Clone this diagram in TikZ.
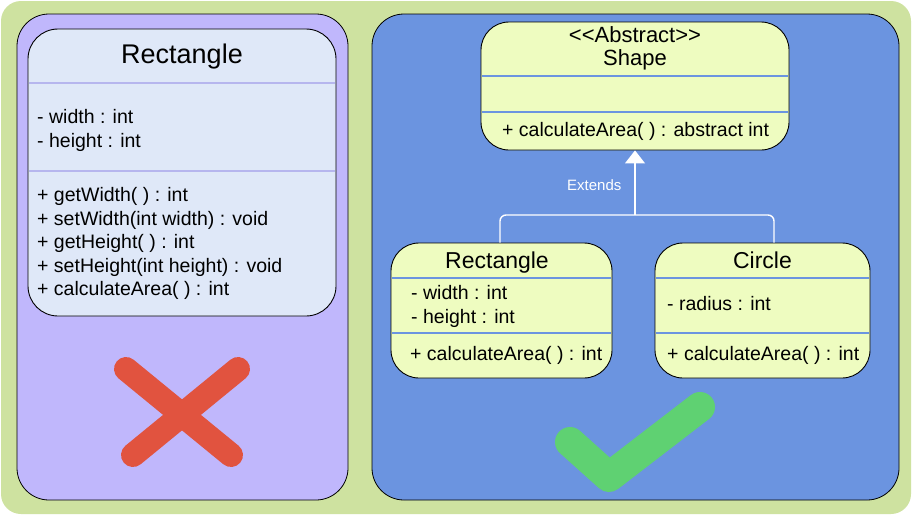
\documentclass[tikz,border=0pt]{standalone}
\usepackage{fontspec}
\setmainfont{Liberation Sans}
\usetikzlibrary{arrows.meta}
\definecolor{frameG}{HTML}{CEE2A0}
\definecolor{panelP}{HTML}{C0B7FC}
\definecolor{panelB}{HTML}{6B94E0}
\definecolor{boxL}{HTML}{DFE8F8}
\definecolor{boxY}{HTML}{EEFCC0}
\definecolor{divL}{HTML}{B6B6EE}
\definecolor{divB}{HTML}{6B94E0}
\definecolor{crossR}{HTML}{E1533F}
\definecolor{checkG}{HTML}{5FD172}
\tikzset{
  panel/.style={draw=black, line width=0.8pt, rounded corners=32pt},
  classbox/.style={draw=black, line width=0.9pt, inner sep=0pt},
  divider/.style={line width=1.6pt},
  txt/.style={inner sep=0pt, anchor=base west, font=\fontsize{19.5}{23}\selectfont},
  ttl/.style={inner sep=0pt, anchor=base, font=\fontsize{23}{26}\selectfont},
  conn/.style={draw=white, line width=1.4pt},
}
\begin{document}
\begin{tikzpicture}[x=1pt,y=-1pt]
\fill[white] (0,0) rectangle (912,515);
\useasboundingbox (0,0) rectangle (912,515);
\fill[frameG, rounded corners=20pt] (1,1) rectangle (911,514);
% panels
\filldraw[panel, fill=panelP] (17,14) rectangle (348,500);
\filldraw[panel, fill=panelB] (372,14) rectangle (899,500);

% left class
\node[classbox, fill=boxL, rounded corners=30pt, minimum width=308pt, minimum height=287pt] (lbox) at (182,172.5) {};
\draw[divider, divL] (28.6,83) -- (335.4,83);
\draw[divider, divL] (28.6,171) -- (335.4,171);
\node[inner sep=0pt, anchor=base, font=\fontsize{27}{30}\selectfont] (ltitle) at (182,63) {Rectangle};
\node[txt] (la1) at (37,123) {- width : int};
\node[txt] (la2) at (37,147) {- height : int};
\node[txt] (lm1) at (37,201.5) {+ getWidth( ) : int};
\node[txt] (lm2) at (37,225) {+ setWidth(int width) : void};
\node[txt] (lm3) at (37,248.5) {+ getHeight( ) : int};
\node[txt] (lm4) at (37,272) {+ setHeight(int height) : void};
\node[txt] (lm5) at (37,295.5) {+ calculateArea( ) : int};

% shape class
\node[classbox, fill=boxY, rounded corners=28pt, minimum width=308pt, minimum height=128pt] (shape) at (635,86) {};
\draw[divider, divB] (481.6,76) -- (788.4,76);
\draw[divider, divB] (481.6,112) -- (788.4,112);
\node[inner sep=0pt, align=center, font=\fontsize{22}{22.5}\selectfont] (st) at (635,48.5) {<{}<Abstract>{}>\\Shape};
\node[txt] (sm1) at (502,136) {+ calculateArea( ) : abstract int};

% rectangle class (right)
\node[classbox, fill=boxY, rounded corners=28pt, minimum width=221pt, minimum height=135pt] (rrect) at (501.5,310.5) {};
\draw[divider, divB] (391.6,278) -- (611.4,278);
\draw[divider, divB] (391.6,333) -- (611.4,333);
\node[ttl] (rt) at (497,268) {Rectangle};
\node[txt] (ra1) at (411,299) {- width : int};
\node[txt] (ra2) at (411,323) {- height : int};
\node[txt] (rm1) at (410,360) {+ calculateArea( ) : int};

% circle class
\node[classbox, fill=boxY, rounded corners=28pt, minimum width=215pt, minimum height=135pt] (circ) at (762.5,310.5) {};
\draw[divider, divB] (655.6,278) -- (869.4,278);
\draw[divider, divB] (655.6,333) -- (869.4,333);
\node[ttl] (ct) at (762.5,268) {Circle};
\node[txt] (ca1) at (667,310) {- radius : int};
\node[txt] (cm1) at (667,360) {+ calculateArea( ) : int};

% inheritance connector
\coordinate (j) at (635,215);
\draw[conn, rounded corners=6pt] ([xshift=-1.5pt]rrect.north) |- (j) -| ([xshift=11.5pt]circ.north);
\draw[conn, -{Triangle[width=20pt,length=13pt]}] (j) -- (shape.south);
\node[inner sep=0pt, anchor=base west, text=white, font=\fontsize{15}{18}\selectfont] (ext) at (567,190) {Extends};

% red cross
\draw[crossR, line width=24pt, line cap=round] (126,369) -- (231,455);
\draw[crossR, line width=24pt, line cap=round] (238,369) -- (133,455);
% green check
\draw[checkG, line width=30pt, line cap=round, line join=round] (570,442) -- (609,477) -- (700,407);
\end{tikzpicture}
\end{document}
